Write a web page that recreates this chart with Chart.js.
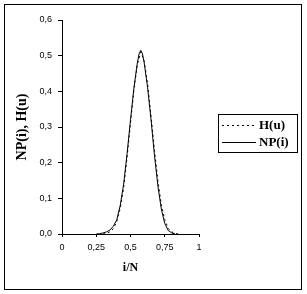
<!DOCTYPE html>
<html>
<head>
<meta charset="utf-8">
<script src="https://cdn.jsdelivr.net/npm/chart.js@4"></script>
<style>
  html, body { margin: 0; padding: 0; background: #fff; }
  canvas { display: block; }
</style>
</head>
<body>
<canvas id="grafico" width="307" height="294"></canvas>
<script>
// valores (x = i/N)
const xNP = [0.25, 0.275, 0.3, 0.325, 0.35, 0.375, 0.4, 0.425, 0.45, 0.475, 0.5, 0.525, 0.55, 0.5625, 0.575, 0.5875, 0.6, 0.625, 0.65, 0.675, 0.7, 0.725, 0.75, 0.775, 0.8, 0.825];
const valoresNP = [0, 0.001, 0.003, 0.006, 0.011, 0.022, 0.04, 0.08, 0.14, 0.225, 0.32, 0.41, 0.48, 0.505, 0.515, 0.505, 0.48, 0.41, 0.32, 0.22, 0.135, 0.07, 0.03, 0.01, 0.003, 0];

const xH = [0.3, 0.325, 0.35, 0.375, 0.4, 0.425, 0.45, 0.475, 0.5, 0.525, 0.55, 0.575, 0.6, 0.625, 0.65, 0.675, 0.7, 0.725, 0.75, 0.775, 0.8, 0.825, 0.85];
const valoresH = [0, 0.002, 0.006, 0.015, 0.035, 0.072, 0.13, 0.215, 0.31, 0.405, 0.475, 0.51, 0.485, 0.42, 0.33, 0.235, 0.15, 0.082, 0.04, 0.016, 0.006, 0.002, 0];

const ticksX = [0, 0.25, 0.5, 0.75, 1];
const ticksY = [0, 0.1, 0.2, 0.3, 0.4, 0.5, 0.6];

const etiquetas = ["H(u)", "NP(i)"];

const coma = (v) => String(v).replace(".", ",");
const fmtY = (v) => v.toFixed(1).replace(".", ",");

// marco exterior y leyenda con borde
const marco = {
  id: "marco",
  afterDraw(chart) {
    const ctx = chart.ctx;
    ctx.save();
    ctx.strokeStyle = "#000";
    ctx.lineWidth = 1;
    ctx.strokeRect(4.5, 4.5, 297, 285);

    // leyenda
    ctx.strokeRect(218.5, 114.5, 79, 38);
    chart.data.datasets.forEach((ds, i) => {
      const y = 125.5 + i * 17;
      ctx.beginPath();
      ctx.setLineDash(ds.borderDash || []);
      ctx.lineWidth = 1;
      ctx.moveTo(222, y);
      ctx.lineTo(256, y);
      ctx.stroke();
      ctx.setLineDash([]);
      ctx.fillStyle = "#000";
      ctx.font = "bold 13px 'Liberation Serif'";
      ctx.textBaseline = "middle";
      ctx.textAlign = "left";
      ctx.fillText(ds.label, 259, y + 0.5);
    });
    ctx.restore();
  },
};

const ctx = document.getElementById("grafico").getContext("2d");

window.miGrafico = new Chart(ctx, {
  type: "line",
  data: {
    datasets: [
      {
        label: etiquetas[0],
        data: xH.map((x, i) => ({ x: x, y: valoresH[i] })),
        borderColor: "#000",
        borderWidth: 1,
        borderDash: [2, 3],
        pointRadius: 0,
        fill: false,
        tension: 0,
      },
      {
        label: etiquetas[1],
        data: xNP.map((x, i) => ({ x: x, y: valoresNP[i] })),
        borderColor: "#000",
        borderWidth: 1,
        pointRadius: 0,
        fill: false,
        tension: 0,
      },
    ],
  },
  options: {
    responsive: false,
    animation: false,
    layout: { padding: { left: 0, top: 20, right: 108, bottom: 0 } },
    plugins: {
      legend: { display: false },
      tooltip: { enabled: false },
    },
    scales: {
      x: {
        type: "linear",
        min: 0,
        max: 1,
        afterBuildTicks: (axis) => {
          axis.ticks = ticksX.map((v) => ({ value: v }));
        },
        afterFit: (axis) => {
          axis.height = 60;
        },
        grid: { drawOnChartArea: false, drawTicks: true, tickLength: 3, color: "#000" },
        border: { display: true, color: "#000" },
        ticks: {
          color: "#000",
          font: { family: "'Liberation Sans'", size: 9 },
          padding: 5,
          maxRotation: 0,
          callback: (v) => coma(v),
        },
        title: {
          display: true,
          text: "i/N",
          color: "#000",
          font: { family: "'Liberation Serif'", size: 12, weight: "bold" },
          padding: { top: 0, bottom: 19 },
        },
      },
      y: {
        min: 0,
        max: 0.6,
        afterBuildTicks: (axis) => {
          axis.ticks = ticksY.map((v) => ({ value: v }));
        },
        afterFit: (axis) => {
          axis.width = 62;
        },
        grid: { drawOnChartArea: false, drawTicks: true, tickLength: 4, color: "#000" },
        border: { display: true, color: "#000" },
        ticks: {
          color: "#000",
          font: { family: "'Liberation Sans'", size: 9 },
          padding: 6,
          callback: (v) => fmtY(v),
        },
        title: {
          display: true,
          text: "NP(i), H(u)",
          color: "#000",
          font: { family: "'Liberation Serif'", size: 14, weight: "bold" },
          padding: { top: 14, bottom: 0 },
        },
      },
    },
  },
  plugins: [marco],
});
</script>
</body>
</html>
